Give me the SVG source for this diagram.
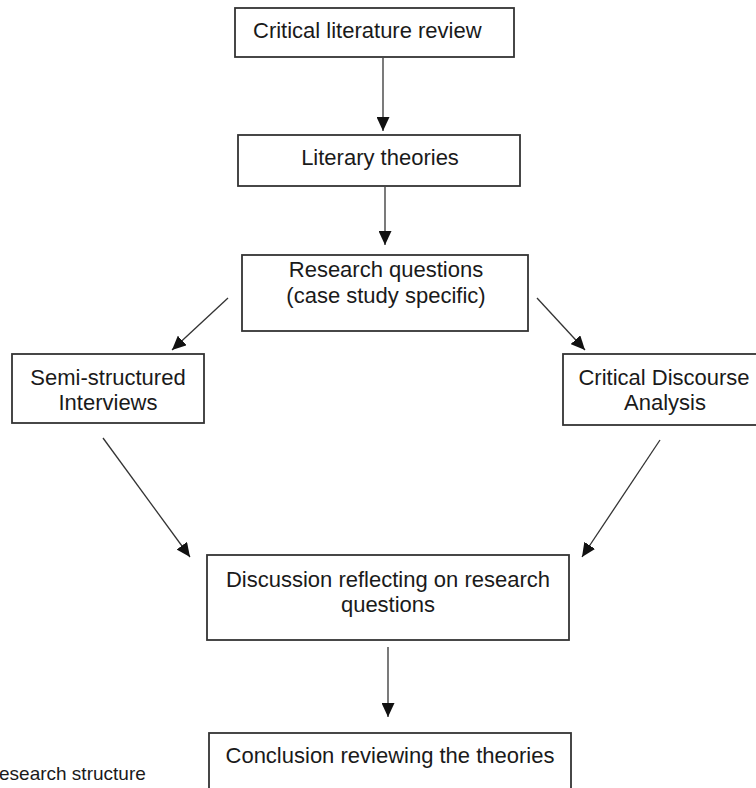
<svg xmlns="http://www.w3.org/2000/svg" width="756" height="788" viewBox="0 0 756 788">
<style>
.box{fill:#fff;stroke:#333;stroke-width:1.8}
.t{font-family:"Liberation Sans",Arial,sans-serif;font-size:22px;fill:#1a1a1a;text-anchor:middle}
.c{stroke:#333;stroke-width:1.3;fill:none;marker-end:url(#ah)}
</style>
<defs>
<marker id="ah" markerUnits="userSpaceOnUse" markerWidth="15" markerHeight="13" refX="14" refY="6.5" orient="auto">
<path d="M0,0 L14,6.5 L0,13 Z" fill="#111"/>
</marker>
</defs>
<rect width="756" height="788" fill="#fff"/>
<g id="connectors">
<line class="c" x1="383" y1="58" x2="383" y2="131"/>
<line class="c" x1="385" y1="187" x2="385" y2="245"/>
<line class="c" x1="228" y1="298" x2="172" y2="350"/>
<line class="c" x1="537" y1="298" x2="585" y2="350"/>
<line class="c" x1="103" y1="438" x2="190" y2="557"/>
<line class="c" x1="660" y1="440" x2="582" y2="557"/>
<line class="c" x1="388" y1="647" x2="388" y2="717"/>
</g>
<g id="n1"><rect class="box" x="235" y="8" width="279" height="49"/><text class="t" x="253" y="38" style="text-anchor:start">Critical literature review</text></g>
<g id="n2"><rect class="box" x="238" y="135" width="282" height="51"/><text class="t" x="380" y="165">Literary theories</text></g>
<g id="n3"><rect class="box" x="242" y="255" width="286" height="76"/><text class="t" x="386" y="277">Research questions</text><text class="t" x="386" y="303">(case study specific)</text></g>
<g id="n4"><rect class="box" x="12" y="354" width="192" height="69"/><text class="t" x="108" y="385">Semi-structured</text><text class="t" x="108" y="410">Interviews</text></g>
<g id="n5"><rect class="box" x="563" y="354" width="200" height="71"/><text class="t" x="664" y="385">Critical Discourse</text><text class="t" x="665" y="410">Analysis</text></g>
<g id="n6"><rect class="box" x="207" y="555" width="362" height="85"/><text class="t" x="388" y="587">Discussion reflecting on research</text><text class="t" x="388" y="612">questions</text></g>
<g id="n7"><rect class="box" x="209" y="733" width="362" height="70"/><text class="t" x="390" y="763">Conclusion reviewing the theories</text></g>
<text x="-1" y="780" style="font-family:'Liberation Sans',Arial,sans-serif;font-size:19px;fill:#1a1a1a">esearch structure</text>
</svg>
